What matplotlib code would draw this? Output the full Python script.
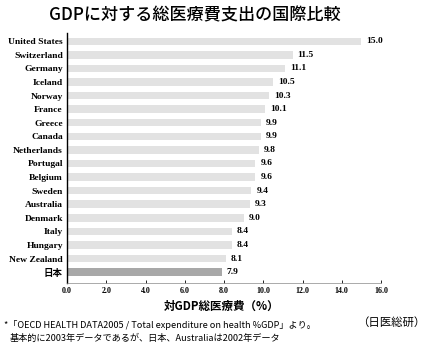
import matplotlib
matplotlib.use("Agg")
from matplotlib import pyplot as plt
import numpy as np

# データ
countries = ["United States", "Switzerland", "Germany", "Iceland", "Norway", "France",
             "Greece", "Canada", "Netherlands", "Portugal", "Belgium", "Sweden",
             "Australia", "Denmark", "Italy", "Hungary", "New Zealand", "日本"]
values = [15.0, 11.5, 11.1, 10.5, 10.3, 10.1, 9.9, 9.9, 9.8, 9.6, 9.6, 9.4,
          9.3, 9.0, 8.4, 8.4, 8.1, 7.9]
xticks = [0.0, 2.0, 4.0, 6.0, 8.0, 10.0, 12.0, 14.0, 16.0]

jp = ["Noto Sans CJK JP", "DejaVu Sans"]
serif = ["Liberation Serif", "Noto Sans CJK JP"]

fig = plt.figure(figsize=(4.30, 3.52), dpi=100)
ax = fig.add_axes([0.156, 0.196, 0.73, 0.71])

pos = np.arange(len(countries))
colors = ["#e2e2e2"] * (len(countries) - 1) + ["#a8a8a8"]
ax.barh(pos, values, height=0.55, color=colors, edgecolor="none")

for p, v in zip(pos, values):
    ax.text(v + 0.25, p, f"{v:.1f}", va="center", ha="left", fontsize=6.8,
            fontweight="bold", family=serif)

ax.set_ylim(17.8, -0.6)
ax.set_xlim(0, 16)
ax.set_yticks(pos)
ax.set_yticklabels(countries, family=serif, fontsize=6.8, fontweight="bold")
ax.set_xticks(xticks)
ax.set_xticklabels([f"{t:.1f}" for t in xticks], family=serif, fontsize=5.8, fontweight="bold")
ax.tick_params(axis="y", length=0, pad=3)
ax.tick_params(axis="x", direction="in", length=2, width=0.6, pad=3)

for s in ["top", "right"]:
    ax.spines[s].set_visible(False)
ax.spines["left"].set_linewidth(1.0)
ax.spines["bottom"].set_linewidth(0.5)
ax.spines["bottom"].set_color("#888888")

fig.text(0.453, 0.957, "GDPに対する総医療費支出の国際比較", ha="center", va="center",
         fontsize=12.3, family=jp, fontweight="medium")
fig.text(0.515, 0.130, "対GDP総医療費（%）", ha="center", va="center",
         fontsize=8.3, family=jp, fontweight="bold")
fig.text(0.010, 0.077, "*「OECD HEALTH DATA2005 / Total expenditure on health %GDP」より。",
         ha="left", va="center", fontsize=6.6, family=jp)
fig.text(0.022, 0.040, "基本的に2003年データであるが、日本、Australiaは2002年データ",
         ha="left", va="center", fontsize=6.6, family=jp)
fig.text(0.99, 0.085, "（日医総研）", ha="right", va="center", fontsize=8.2, family=jp)

fig.savefig("out.png", dpi=100)
